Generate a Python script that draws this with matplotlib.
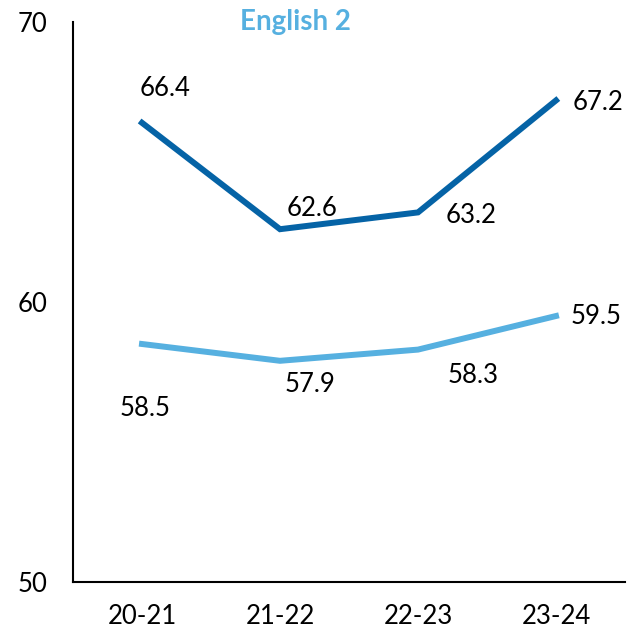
import matplotlib
matplotlib.use("Agg")
import matplotlib.pyplot as plt

plt.rcParams["font.family"] = ["Lato", "DejaVu Sans"]

years = ["20-21", "21-22", "22-23", "23-24"]
dark_values = [66.4, 62.6, 63.2, 67.2]
light_values = [58.5, 57.9, 58.3, 59.5]

# label offsets in pixels (dx, dy)
dark_offsets = [(23, 34), (32, 21), (53, -3), (42, -2)]
light_offsets = [(3, -65), (30, -24), (55, -26), (40, -1)]

dark_color = "#0563a6"
light_color = "#56b0e0"

fig = plt.figure(figsize=(6.38, 6.34), dpi=100)
ax = fig.add_axes([73 / 638, 52 / 634, 552 / 638, 560 / 634])

x = range(len(years))
ax.plot(x, dark_values, color=dark_color, linewidth=4.3, solid_joinstyle="miter")
ax.plot(x, light_values, color=light_color, linewidth=4.3, solid_joinstyle="miter")

for i, v in enumerate(dark_values):
    ax.annotate(f"{v:.1f}", (i, v), xytext=dark_offsets[i], textcoords="offset pixels",
                ha="center", va="center", fontsize=18.5, color="black")
for i, v in enumerate(light_values):
    ax.annotate(f"{v:.1f}", (i, v), xytext=light_offsets[i], textcoords="offset pixels",
                ha="center", va="center", fontsize=18.5, color="black")

ax.set_xlim(-0.5, 3.5)
ax.set_ylim(50, 70)
ax.set_yticks([50, 60, 70])
ax.set_xticks(list(x))
ax.set_xticklabels(years)
ax.tick_params(axis="both", length=0, labelsize=18.5)
ax.tick_params(axis="x", pad=16)
ax.tick_params(axis="y", pad=40)
for lbl in ax.get_yticklabels():
    lbl.set_horizontalalignment("left")

ax.spines["top"].set_visible(False)
ax.spines["right"].set_visible(False)
ax.spines["left"].set_linewidth(1.5)
ax.spines["bottom"].set_linewidth(1.5)

fig.text(295 / 638, 1 - 22 / 634, "English 2", color=light_color, fontsize=20,
         fontweight="bold", ha="center", va="center")

fig.savefig("out.png", dpi=100)
